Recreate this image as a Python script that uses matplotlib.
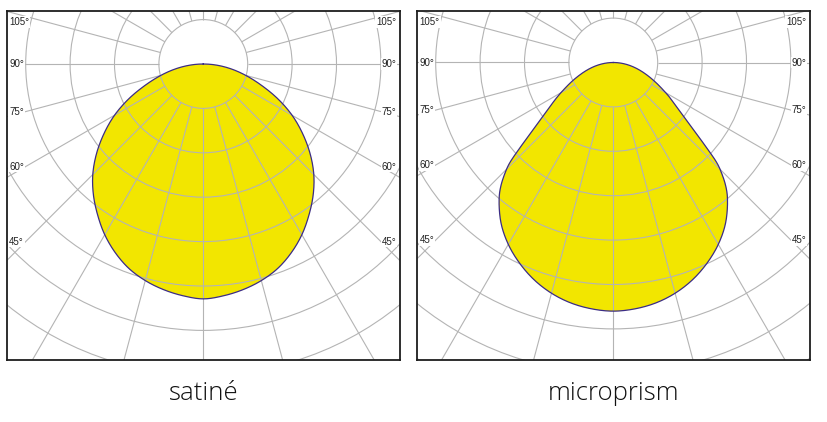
import numpy as np
import matplotlib
matplotlib.use("Agg")
import matplotlib.pyplot as plt
from matplotlib.patches import Circle
from matplotlib.transforms import blended_transform_factory

# ---- data (angle from nadir in degrees, intensity in grid-ring units) ----
satine_angles = [0, 5, 10, 15, 20, 25, 30, 35, 40, 45, 50, 55, 60, 65, 70, 75, 80, 85, 90]
satine_values = [5.29, 5.24, 5.16, 5.05, 4.90, 4.69, 4.44, 4.15, 3.85, 3.52, 3.14,
                 2.73, 2.31, 1.85, 1.385, 0.99, 0.64, 0.31, 0.0]

micro_angles = [0, 5, 10, 15, 20, 25, 30, 35, 40, 42.5, 45, 46, 47.5, 50, 52.5,
                55, 57.5, 60, 65, 70, 75, 80, 85, 90]
micro_values = [5.60, 5.57, 5.50, 5.38, 5.21, 4.99, 4.73, 4.41, 4.00, 3.74, 3.40,
                3.23, 2.87, 2.36, 2.01, 1.75, 1.55, 1.365, 1.05, 0.79, 0.57, 0.37,
                0.18, 0.0]

titles = ["satiné", "microprism"]
label_angles = [105, 90, 75, 60, 45]

# ---- styling ----
W, H = 827, 422
YELLOW = "#F2E600"
OUTLINE = "#3B2C86"
GRID = "#B4B4B4"
UNIT = 44.4  # pixels per ring


def smooth_closed(px, py, n=16):
    """Centripetal Catmull-Rom through the given closed list of points (drawing only)."""
    P = np.column_stack([px, py])
    N = len(P)
    out = []
    for i in range(N):
        p0, p1, p2, p3 = P[i - 1], P[i], P[(i + 1) % N], P[(i + 2) % N]

        def tj(ti, a, b):
            return ti + max(np.hypot(*(b - a)), 1e-6) ** 0.5
        t0 = 0.0
        t1 = tj(t0, p0, p1)
        t2 = tj(t1, p1, p2)
        t3 = tj(t2, p2, p3)
        t = np.linspace(t1, t2, n, endpoint=False)[:, None]
        A1 = (t1 - t) / (t1 - t0) * p0 + (t - t0) / (t1 - t0) * p1
        A2 = (t2 - t) / (t2 - t1) * p1 + (t - t1) / (t2 - t1) * p2
        A3 = (t3 - t) / (t3 - t2) * p2 + (t - t2) / (t3 - t2) * p3
        B1 = (t2 - t) / (t2 - t0) * A1 + (t - t0) / (t2 - t0) * A2
        B2 = (t3 - t) / (t3 - t1) * A2 + (t - t1) / (t3 - t1) * A3
        C = (t2 - t) / (t2 - t1) * B1 + (t - t1) / (t2 - t1) * B2
        out.append(C)
    out = np.vstack(out)
    out = np.vstack([out, out[:1]])
    return out[:, 0], out[:, 1]


fig = plt.figure(figsize=(W / 100, H / 100), dpi=100)

panels = [
    dict(box=(7, 11, 400, 360), center=(203.3, 64.0), ang=satine_angles, val=satine_values),
    dict(box=(417.3, 11, 810, 360), center=(613.3, 62.5), ang=micro_angles, val=micro_values),
]

for p, title in zip(panels, titles):
    x0, y0, x1, y1 = p["box"]
    cx, cy = p["center"]
    ax = fig.add_axes([x0 / W, (H - y1) / H, (x1 - x0) / W, (y1 - y0) / H])
    ax.set_xlim((x0 - cx) / UNIT, (x1 - cx) / UNIT)
    ax.set_ylim(-(y1 - cy) / UNIT, (cy - y0) / UNIT)
    ax.set_xticks([])
    ax.set_yticks([])
    for s in ax.spines.values():
        s.set_linewidth(1.3)
        s.set_color("#1E1E1E")
        s.set_zorder(10)

    # curve (symmetric about nadir)
    a = np.array(p["ang"], dtype=float)
    v = np.array(p["val"], dtype=float)
    full_a = np.concatenate([-a[::-1], a[1:-1]])
    full_v = np.concatenate([v[::-1], v[1:-1]])
    th = np.deg2rad(full_a)
    xs, ys = smooth_closed(full_v * np.sin(th), -full_v * np.cos(th))
    ax.fill(xs, ys, color=YELLOW, zorder=1, lw=0)

    # grid rings
    for k in range(1, 10):
        ax.add_patch(Circle((0, 0), k, fill=False, ec=GRID, lw=0.8, zorder=2))
    # radial lines
    for ang in range(0, 360, 15):
        t = np.deg2rad(ang)
        ax.plot([np.sin(t) * 1, np.sin(t) * 12], [-np.cos(t) * 1, -np.cos(t) * 12],
                color=GRID, lw=0.8, zorder=2, solid_capstyle="butt")

    ax.plot(xs, ys, color=OUTLINE, lw=0.9, zorder=3)

    # angle labels
    xl, xr = ax.get_xlim()
    yb, yt = ax.get_ylim()
    X = 4.0
    for la in label_angles:
        t = np.deg2rad(la)
        yy = -X * np.cos(t) / np.sin(t)
        yy = min(yy, yt - 0.25)
        kw = dict(fontsize=7, family="Liberation Sans", color="#222222", va="center",
                  zorder=5, bbox=dict(facecolor="white", edgecolor="none", pad=0.6))
        ax.text(xl + 0.05, yy, f"{la}°", ha="left", **kw)
        ax.text(xr - 0.08, yy, f"{la}°", ha="right", **kw)

    tr = blended_transform_factory(ax.transData, fig.transFigure)
    ax.text(0, (H - 399.5) / H, title, transform=tr, ha="center", va="baseline",
            fontsize=18.5, family="Open Sans", fontweight="light", color="#111111",
            clip_on=False)

fig.savefig("out.png", dpi=100)
